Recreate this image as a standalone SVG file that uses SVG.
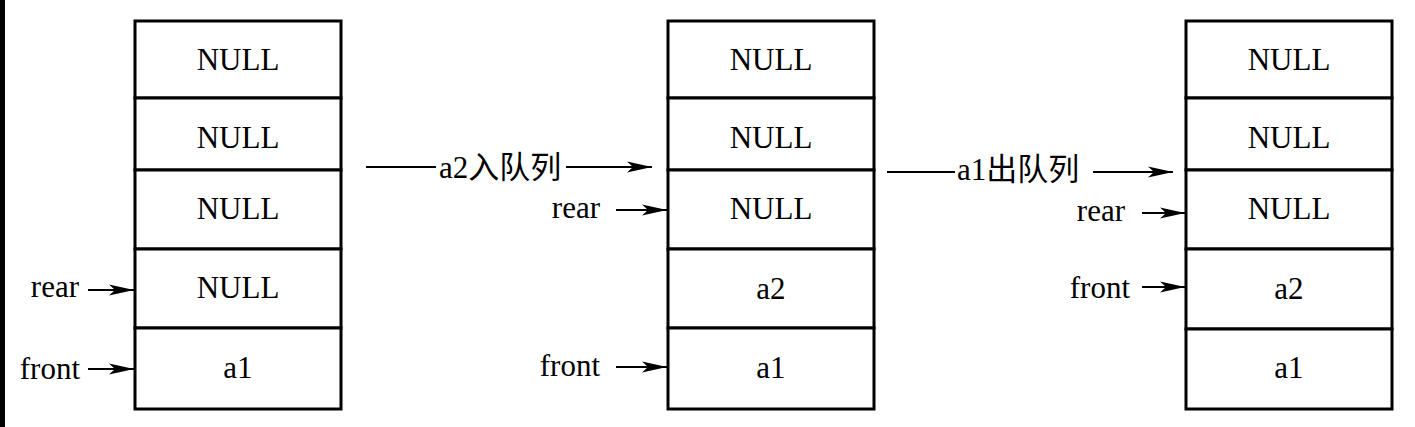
<svg xmlns="http://www.w3.org/2000/svg" width="1415" height="427" viewBox="0 0 1415 427">
<style>
.cell{fill:#fff;stroke:#000;stroke-width:3}
.t{font-family:"Liberation Serif","Noto Sans CJK SC",serif;font-size:31px;fill:#000}
.c{text-anchor:middle}
.e{text-anchor:end}
.ln{stroke:#000;stroke-width:2;fill:none}
</style>
<defs>
<marker id="ah" markerWidth="26" markerHeight="12" refX="25" refY="6" orient="auto" markerUnits="userSpaceOnUse">
<path d="M0,0.5 L25,6 L0,11.5 L6,6 Z" fill="#000"/>
</marker>
</defs>
<rect x="0" y="0" width="5" height="427" fill="#000"/>
<rect x="5" y="0" width="1410" height="427" fill="#fff"/>

<g id="queue1">
<rect class="cell" x="135" y="21" width="206" height="77"/>
<rect class="cell" x="135" y="98" width="206" height="72"/>
<rect class="cell" x="135" y="170" width="206" height="79"/>
<rect class="cell" x="135" y="249" width="206" height="79"/>
<rect class="cell" x="135" y="328" width="206" height="81"/>
<text class="t c" x="238" y="70">NULL</text>
<text class="t c" x="238" y="148">NULL</text>
<text class="t c" x="238" y="219">NULL</text>
<text class="t c" x="238" y="298">NULL</text>
<text class="t c" x="238" y="378">a1</text>
</g>

<g id="queue2">
<rect class="cell" x="668" y="21" width="206" height="77"/>
<rect class="cell" x="668" y="98" width="206" height="72"/>
<rect class="cell" x="668" y="170" width="206" height="79"/>
<rect class="cell" x="668" y="249" width="206" height="79"/>
<rect class="cell" x="668" y="328" width="206" height="81"/>
<text class="t c" x="771" y="70">NULL</text>
<text class="t c" x="771" y="148">NULL</text>
<text class="t c" x="771" y="219">NULL</text>
<text class="t c" x="771" y="299">a2</text>
<text class="t c" x="771" y="378">a1</text>
</g>

<g id="queue3">
<rect class="cell" x="1186" y="21" width="206" height="77"/>
<rect class="cell" x="1186" y="98" width="206" height="72"/>
<rect class="cell" x="1186" y="170" width="206" height="79"/>
<rect class="cell" x="1186" y="249" width="206" height="80"/>
<rect class="cell" x="1186" y="329" width="206" height="80"/>
<text class="t c" x="1289" y="70">NULL</text>
<text class="t c" x="1289" y="148">NULL</text>
<text class="t c" x="1289" y="219">NULL</text>
<text class="t c" x="1289" y="299">a2</text>
<text class="t c" x="1289" y="378">a1</text>
</g>

<g id="labels">
<text class="t e" x="79" y="297">rear</text>
<text class="t e" x="80" y="379">front</text>
<text class="t" x="439" y="178">a2入队列</text>
<text class="t e" x="600" y="218">rear</text>
<text class="t e" x="600" y="376">front</text>
<text class="t" x="957" y="180">a1出队列</text>
<text class="t e" x="1125" y="221">rear</text>
<text class="t e" x="1130" y="298">front</text>
</g>

<g id="connectors">
<line class="ln" x1="88" y1="290" x2="134" y2="290" marker-end="url(#ah)"/>
<line class="ln" x1="88" y1="369" x2="134" y2="369" marker-end="url(#ah)"/>
<line class="ln" x1="366" y1="167" x2="436" y2="167"/>
<line class="ln" x1="566" y1="167" x2="652" y2="167" marker-end="url(#ah)"/>
<line class="ln" x1="616" y1="210" x2="667" y2="210" marker-end="url(#ah)"/>
<line class="ln" x1="616" y1="367" x2="667" y2="367" marker-end="url(#ah)"/>
<line class="ln" x1="887" y1="172" x2="955" y2="172"/>
<line class="ln" x1="1093" y1="172" x2="1173" y2="172" marker-end="url(#ah)"/>
<line class="ln" x1="1142" y1="213" x2="1185" y2="213" marker-end="url(#ah)"/>
<line class="ln" x1="1142" y1="287" x2="1185" y2="287" marker-end="url(#ah)"/>
</g>
</svg>
